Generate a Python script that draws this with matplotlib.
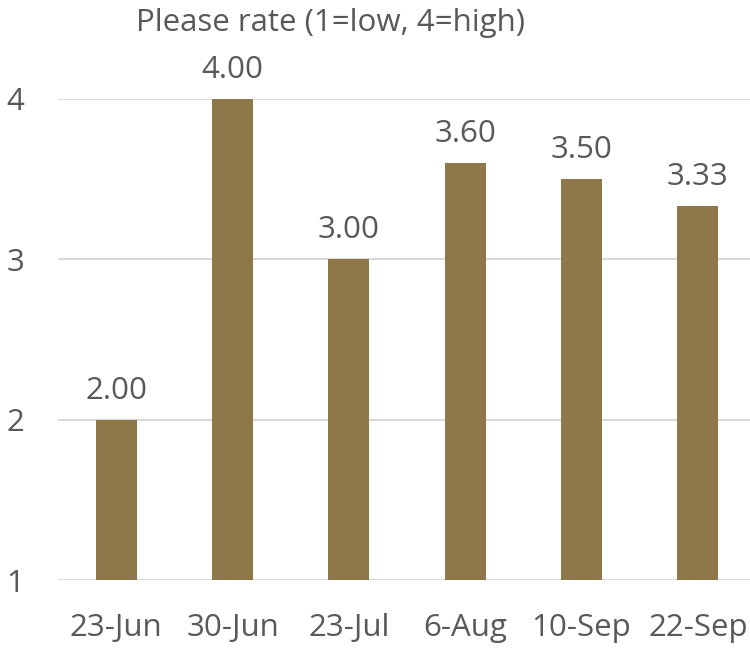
import matplotlib
matplotlib.use("Agg")
import matplotlib.pyplot as plt

dates = ["23-Jun", "30-Jun", "23-Jul", "6-Aug", "10-Sep", "22-Sep"]
ratings = [2.00, 4.00, 3.00, 3.60, 3.50, 3.33]
y_ticks = [1, 2, 3, 4]
title = "Please rate (1=low, 4=high)"

bar_color = "#8E784A"
text_color = "#595959"
grid_color = "#D9D9D9"
fs = 22.5

plt.rcParams["font.family"] = ["Open Sans", "DejaVu Sans"]

fig = plt.figure(figsize=(7.5, 6.48), dpi=100)
ax = fig.add_axes([58 / 750, 1 - 580 / 648, 698 / 750, 481 / 648])

x = range(len(dates))
ax.bar(x, ratings, width=0.35, bottom=0, color=bar_color, zorder=3)
ax.set_xlim(-0.5, len(dates) - 0.5)
ax.set_ylim(1, 4)
ax.set_yticks(y_ticks)
ax.yaxis.grid(True, color=grid_color, linewidth=1.5, zorder=0)
ax.set_xticks(list(x))
ax.set_xticklabels(dates)
ax.tick_params(axis="both", length=0, labelsize=fs, colors=text_color)
ax.tick_params(axis="x", pad=24)
ax.tick_params(axis="y", pad=37)
for lbl in ax.get_yticklabels():
    lbl.set_horizontalalignment("left")
for s in ax.spines.values():
    s.set_visible(False)

for xi, v in zip(x, ratings):
    ax.annotate(f"{v:.2f}", (xi, v), xytext=(0, 14), textcoords="offset pixels",
                ha="center", va="bottom", fontsize=fs, color=text_color,
                annotation_clip=False)

fig.text(330 / 750, 1 - 23 / 648, title, ha="center", va="center",
         fontsize=fs, color=text_color)

fig.savefig("out.png", dpi=100)
